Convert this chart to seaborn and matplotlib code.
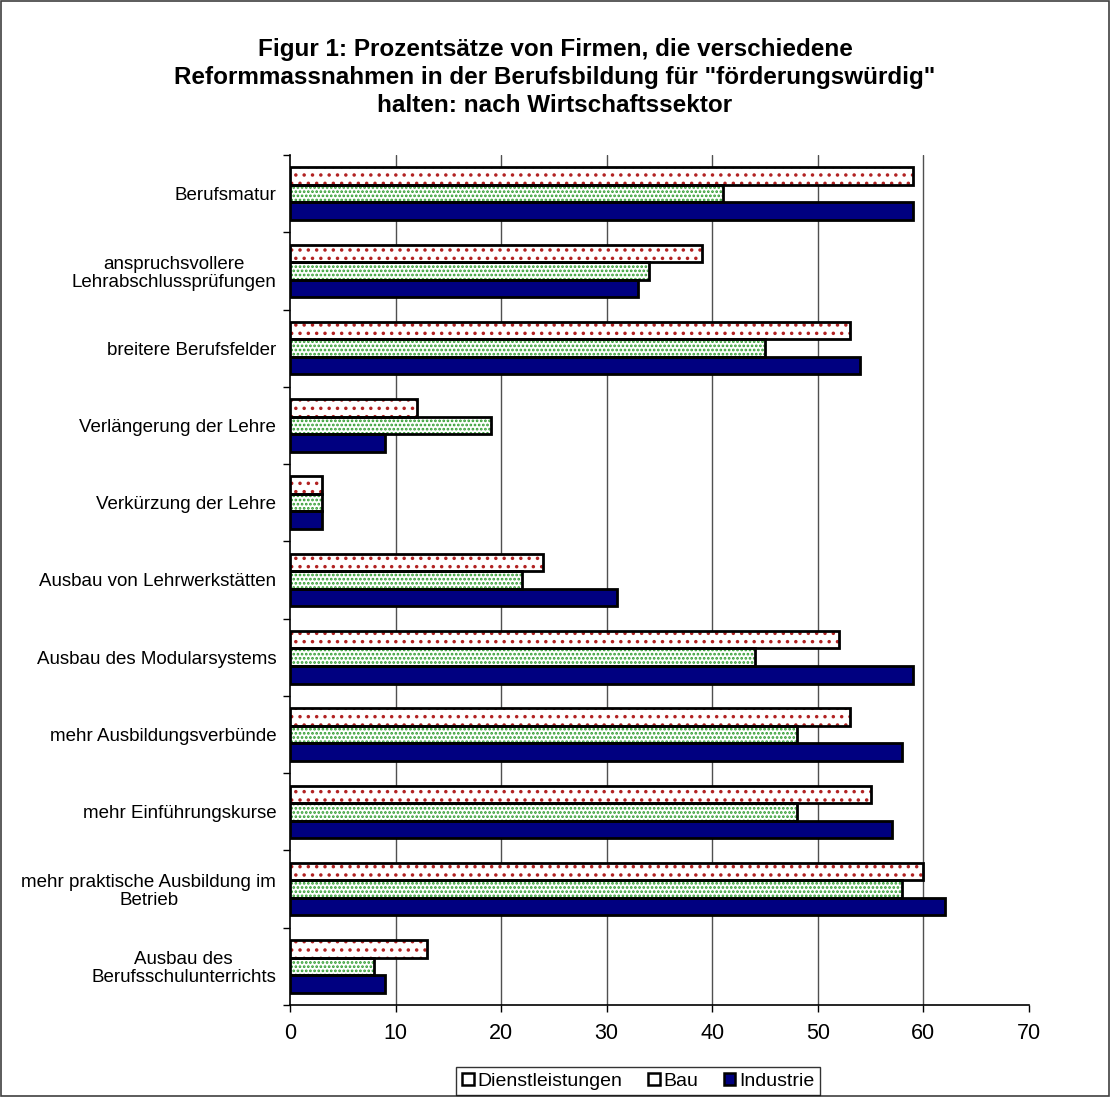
import matplotlib
matplotlib.use("Agg")
import matplotlib.pyplot as plt
import seaborn as sns
import pandas as pd
import numpy as np
from matplotlib.patches import Patch, Rectangle

categories = [
    "Berufsmatur",
    "anspruchsvollere\nLehrabschlussprüfungen",
    "breitere Berufsfelder",
    "Verlängerung der Lehre",
    "Verkürzung der Lehre",
    "Ausbau von Lehrwerkstätten",
    "Ausbau des Modularsystems",
    "mehr Ausbildungsverbünde",
    "mehr Einführungskurse",
    "mehr praktische Ausbildung im\nBetrieb",
    "Ausbau des\nBerufsschulunterrichts",
]
dienstleistungen = [59, 39, 53, 12, 3, 24, 52, 53, 55, 60, 13]
bau = [41, 34, 45, 19, 3, 22, 44, 48, 48, 58, 8]
industrie = [59, 33, 54, 9, 3, 31, 59, 58, 57, 62, 9]
series = ["Dienstleistungen", "Bau", "Industrie"]
x_ticks = [0, 10, 20, 30, 40, 50, 60, 70]
title = ('Figur 1: Prozentsätze von Firmen, die verschiedene\n'
         'Reformmassnahmen in der Berufsbildung für "förderungswürdig"\n'
         'halten: nach Wirtschaftssektor')

df = pd.DataFrame({
    "Massnahme": categories * 3,
    "Sektor": [series[0]] * len(categories) + [series[1]] * len(categories) + [series[2]] * len(categories),
    "Prozent": dienstleistungen + bau + industrie,
})

sns.set_theme(style="white")
plt.rcParams["font.family"] = ["Liberation Sans", "DejaVu Sans"]
plt.rcParams["hatch.linewidth"] = 1.3
for k in ["text.color", "axes.labelcolor", "xtick.color", "ytick.color", "axes.edgecolor"]:
    plt.rcParams[k] = "black"

fig = plt.figure(figsize=(11.10, 10.97), dpi=100)
ax = fig.add_axes([0.2613, 0.0839, 0.927 - 0.2613, 0.8587 - 0.0839])

sns.barplot(data=df, y="Massnahme", x="Prozent", hue="Sektor", hue_order=series,
            order=categories, orient="h", width=0.68, gap=0, dodge=True,
            palette=["white", "white", "#000080"], legend=False, ax=ax, errorbar=None)

styles = [
    dict(face="white", hatch="..", dot="#b22222"),
    dict(face="white", hatch="....", dot="#2e9b2e"),
    dict(face="#000080", hatch=None, dot=None),
]
for cont, st in zip(ax.containers, styles):
    for bar in cont:
        if st["hatch"]:
            bar.set_facecolor(st["face"])
            bar.set_hatch(st["hatch"])
            bar.set_edgecolor(st["dot"])
            bar.set_linewidth(0)
            ax.add_patch(Rectangle((bar.get_x(), bar.get_y()), bar.get_width(), bar.get_height(),
                                   fill=False, edgecolor="black", linewidth=2.0, zorder=3))
        else:
            bar.set_facecolor(st["face"])
            bar.set_edgecolor("black")
            bar.set_linewidth(2.0)
            bar.set_zorder(3)

ax.set_xlim(0, 70)
ax.set_ylim(len(categories) - 0.5, -0.5)
ax.set_xticks(x_ticks)
ax.set_xticklabels([str(t) for t in x_ticks], fontsize=15.5)
ax.grid(axis="x", color="#505050", linewidth=1.0)
ax.set_axisbelow(True)
gl = ax.xaxis.get_gridlines()
gl[0].set_visible(False)
gl[-1].set_visible(False)

ax.set_yticks(range(len(categories)))
ax.set_yticklabels(categories, fontsize=13.5, multialignment="center")
for lab in ax.get_yticklabels():
    lab.set_linespacing(1.07)
ax.set_yticks(np.arange(-0.5, len(categories), 1), minor=True)
ax.tick_params(axis="y", which="major", length=0, pad=10)
ax.tick_params(axis="y", which="minor", length=5, width=1, direction="out", color="black", left=True)
ax.tick_params(axis="x", which="major", length=5, width=1, direction="out", color="black", bottom=True, pad=8)
ax.set_xlabel("")
ax.set_ylabel("")

for s in ["top", "right"]:
    ax.spines[s].set_visible(False)
for s in ["left", "bottom"]:
    ax.spines[s].set_visible(True)
    ax.spines[s].set_color("black")
    ax.spines[s].set_linewidth(1.2)

fig.text(0.5, 0.929, title, ha="center", va="center", fontsize=17.5, fontweight="bold",
         linespacing=1.28)

handles = [
    Patch(facecolor="white", edgecolor="black", linewidth=1.8),
    Patch(facecolor="white", edgecolor="black", linewidth=1.8),
    Patch(facecolor="#000080", edgecolor="black", linewidth=1.8),
]
leg = fig.legend(handles, series, loc="center", bbox_to_anchor=(0.575, 0.0145), ncol=3,
                 fontsize=14, frameon=True, fancybox=False, edgecolor="black",
                 handlelength=0.6, handleheight=0.6, handletextpad=0.2, columnspacing=1.3,
                 borderpad=0.3, borderaxespad=0)
leg.get_frame().set_linewidth(1.0)

fig.add_artist(Rectangle((0.0005, 0.0005), 0.999, 0.999, transform=fig.transFigure,
                         fill=False, edgecolor="#404040", linewidth=1.2))

fig.savefig("out.png", dpi=100, facecolor="white")
